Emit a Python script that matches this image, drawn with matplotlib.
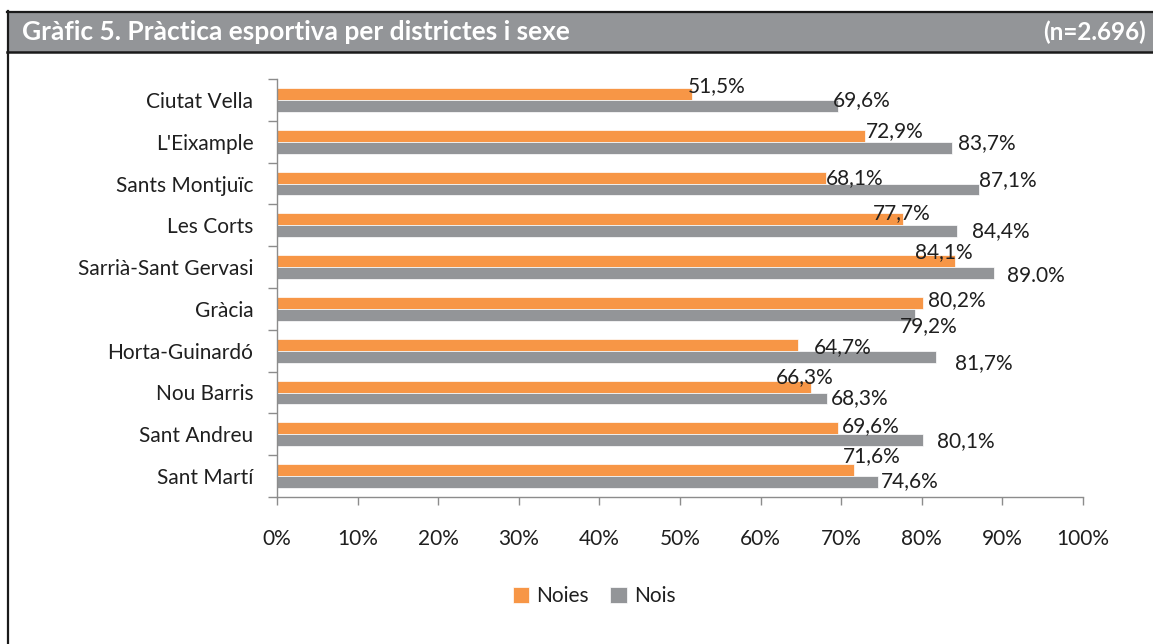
import matplotlib
matplotlib.use("Agg")
import matplotlib.pyplot as plt
from matplotlib.patches import Rectangle
from matplotlib.lines import Line2D
import numpy as np

# ---- data ----
districtes = ["Ciutat Vella", "L'Eixample", "Sants Montjuïc", "Les Corts",
              "Sarrià-Sant Gervasi", "Gràcia", "Horta-Guinardó", "Nou Barris",
              "Sant Andreu", "Sant Martí"]
noies = [51.5, 72.9, 68.1, 77.7, 84.1, 80.2, 64.7, 66.3, 69.6, 71.6]
nois = [69.6, 83.7, 87.1, 84.4, 89.0, 79.2, 81.7, 68.3, 80.1, 74.6]
noies_labels = ["51,5%", "72,9%", "68,1%", "77,7%", "84,1%", "80,2%", "64,7%", "66,3%", "69,6%", "71,6%"]
nois_labels = ["69,6%", "83,7%", "87,1%", "84,4%", "89.0%", "79,2%", "81,7%", "68,3%", "80,1%", "74,6%"]
xticks = [0, 10, 20, 30, 40, 50, 60, 70, 80, 90, 100]
series_names = ["Noies", "Nois"]
title = "Gràfic 5. Pràctica esportiva per districtes i sexe"
n_text = "(n=2.696)"

# ---- label placement (pixel offsets from bar end / bar centre, down = +) ----
noies_dx = [-4, 1, 0, -30, -40, 5, 15, -36, 4, -11]
noies_dy = [-6, -3, 3, -4, -7, -1, 4, -7, 0, -12]
nois_dx = [-5, 6, 0, 15, 13, -15, 19, 3, 14, 3]
nois_dy = [-4, -3, -7, 2, 5, 13, 8, 2, 3, 1]

ORANGE = "#F79646"
GREY = "#939598"
TXT = "#1f1f1f"
AX = "#8C8C8C"
FONT = "Lato"
FS = 15

plt.rcParams['font.family'] = [FONT, 'DejaVu Sans']

W, H = 1153, 644
fig = plt.figure(figsize=(W / 100, H / 100), dpi=100)

def fx(px):
    return px / W

def fy(py):
    return 1 - py / H

# title bar
fig.patches.append(Rectangle((fx(7), fy(52)), fx(W - 7), fy(12) - fy(52),
                             transform=fig.transFigure, facecolor=GREY, edgecolor="none"))
fig.lines.append(Line2D([fx(7), 1], [fy(11.8), fy(11.8)], transform=fig.transFigure, color="#1a1a1a", lw=1.6))
fig.lines.append(Line2D([fx(7), 1], [fy(52), fy(52)], transform=fig.transFigure, color="#1a1a1a", lw=1.8))
fig.lines.append(Line2D([fx(7.8), fx(7.8)], [fy(11), 0], transform=fig.transFigure, color="#1a1a1a", lw=1.6))
fig.text(fx(22), fy(32), title, color="white", fontsize=19, fontweight="bold", ha="left", va="center")
fig.text(fx(1146), fy(32), n_text, color="white", fontsize=17.5, fontweight="bold", ha="right", va="center")

ax = fig.add_axes([fx(277), fy(497), fx(1083 - 277), fy(79) - fy(497)])

y = np.arange(len(districtes))
h = 0.287
b1 = ax.barh(y - h / 2, noies, height=h, color=ORANGE, edgecolor="white", linewidth=0.5, label=series_names[0])
b2 = ax.barh(y + h / 2, nois, height=h, color=GREY, edgecolor="white", linewidth=0.5, label=series_names[1])

ax.set_xlim(0, 100)
ax.set_ylim(len(districtes) - 0.5, -0.5)

ax.set_xticks(xticks)
ax.set_xticklabels([f"{v}%" for v in xticks], fontsize=FS, color=TXT)
ax.tick_params(axis="x", direction="out", length=6, width=1, color=AX, pad=17)

ax.set_yticks(y)
ax.set_yticklabels(districtes, fontsize=FS, color=TXT)
ax.tick_params(axis="y", which="major", length=0, pad=17)
ax.set_yticks(np.arange(len(districtes) + 1) - 0.5, minor=True)
ax.tick_params(axis="y", which="minor", direction="out", length=6.5, width=1, color=AX)

for s in ["top", "right"]:
    ax.spines[s].set_visible(False)
for s in ["left", "bottom"]:
    ax.spines[s].set_color(AX)
    ax.spines[s].set_linewidth(1)

yshift = 2
for i in range(len(districtes)):
    ax.annotate(noies_labels[i], xy=(noies[i], y[i] - h / 2), xytext=(noies_dx[i], -noies_dy[i] + yshift),
                textcoords="offset pixels", ha="left", va="center", fontsize=FS, color=TXT)
    ax.annotate(nois_labels[i], xy=(nois[i], y[i] + h / 2), xytext=(nois_dx[i], -nois_dy[i] + yshift),
                textcoords="offset pixels", ha="left", va="center", fontsize=FS, color=TXT)

fig.legend(handles=[b1, b2], labels=series_names, loc="center", bbox_to_anchor=(fx(594), fy(596)),
           ncol=2, frameon=False, fontsize=FS, handlelength=0.8, handleheight=0.8,
           handletextpad=0.35, columnspacing=1.0, labelcolor=TXT)

fig.savefig("out.png", dpi=100)
